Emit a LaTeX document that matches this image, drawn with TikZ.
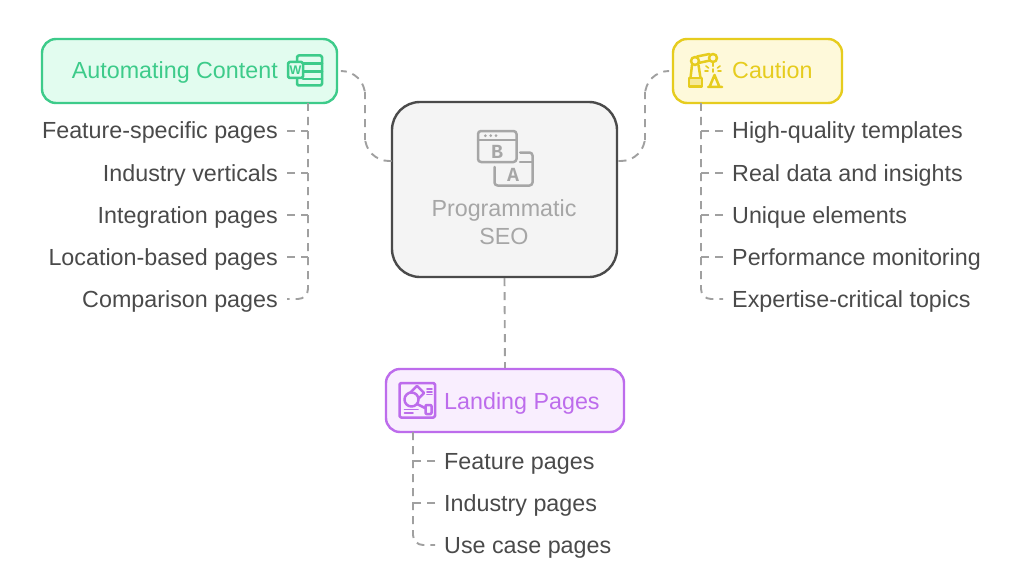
\documentclass[tikz,border=0pt]{standalone}
\usepackage{fontspec}
\setmainfont{Liberation Sans}
\newfontfamily\iconfont{Liberation Mono}
\definecolor{autoline}{HTML}{3DCB8A}
\definecolor{autofill}{HTML}{E2FCEF}
\definecolor{cautline}{HTML}{E6CC1E}
\definecolor{cautfill}{HTML}{FEF9DA}
\definecolor{landline}{HTML}{BD6CEC}
\definecolor{landfill}{HTML}{F9EEFE}
\definecolor{seoline}{HTML}{4A4A4A}
\definecolor{seofill}{HTML}{F4F4F4}
\definecolor{seotext}{HTML}{A6A6A6}
\definecolor{leaftext}{HTML}{4A4A4A}
\definecolor{linkgray}{HTML}{A0A0A0}
\tikzset{
  txt/.style={font=\fontsize{23.3}{26}\selectfont,text height=16pt,text depth=0pt,inner ysep=0pt,inner xsep=9pt},
  leafl/.style={txt,anchor=east,text=leaftext},
  leafr/.style={txt,anchor=west,text=leaftext},
  box/.style={draw,rounded corners=14pt,line width=2.4pt,minimum height=64pt,inner sep=0pt},
  link/.style={draw=linkgray,line width=1.9pt,dash pattern=on 8pt off 6pt},
  icon/.style={line width=2.5pt,line join=round,line cap=round},
}
\begin{document}
\begin{tikzpicture}[x=1pt,y=-1pt]
\path[use as bounding box,fill=white] (0,0) rectangle (1024,583);

\node[box,draw=seoline,fill=seofill,rounded corners=28pt,minimum width=225pt,minimum height=175pt] (seo) at (504.5,189.5) {};
\node[box,draw=autoline,fill=autofill,minimum width=295pt] (auto) at (189.5,71) {};
\node[box,draw=cautline,fill=cautfill,minimum width=169pt] (caut) at (757.5,71) {};
\node[box,draw=landline,fill=landfill,minimum width=238pt,minimum height=63pt] (land) at (505,400.5) {};

\node[txt,text=seotext] (seoa) at (504,208) {Programmatic};
\node[txt,text=seotext] (seob) at (504,236) {SEO};
\node[leafl,text=autoline] (autolabel) at (287,71) {Automating Content};
\node[leafr,text=cautline] (cautlabel) at (723,71) {Caution};
\node[leafr,text=landline] (landlabel) at (435,401) {Landing Pages};

\node[leafl] (feature) at (287,131) {Feature-specific pages};
\node[leafl] (industry) at (287,173) {Industry verticals};
\node[leafl] (integration) at (287,215) {Integration pages};
\node[leafl] (location) at (287,257) {Location-based pages};
\node[leafl] (comparison) at (287,299) {Comparison pages};

\node[leafr] (quality) at (723,131) {High-quality templates};
\node[leafr] (realdata) at (723,173) {Real data and insights};
\node[leafr] (unique) at (723,215) {Unique elements};
\node[leafr] (monitor) at (723,257) {Performance monitoring};
\node[leafr] (expert) at (723,299) {Expertise-critical topics};

\node[leafr] (featpages) at (435,461) {Feature pages};
\node[leafr] (indpages) at (435,503) {Industry pages};
\node[leafr] (usepages) at (435,545) {Use case pages};

\coordinate (seol) at (392,161);
\coordinate (seor) at (617,161);
\coordinate (autobend) at (365,116);
\coordinate (cautbend) at (645,116);
\coordinate (autotrunk) at (308,103);
\coordinate (cauttrunk) at (701,103);
\coordinate (landtrunk) at (413,432);

\draw[link,rounded corners=24pt,shorten <=5pt] (auto.east) -| (autobend) |- (seol);
\draw[link,rounded corners=24pt,shorten <=5pt] (caut.west) -| (cautbend) |- (seor);
\draw[link] (seo.south) -- (land.north);

\draw[link,rounded corners=10pt] (autotrunk) |- (comparison.east);
\draw[link] (feature.east) -- (feature.east -| autotrunk);
\draw[link] (industry.east) -- (industry.east -| autotrunk);
\draw[link] (integration.east) -- (integration.east -| autotrunk);
\draw[link] (location.east) -- (location.east -| autotrunk);

\draw[link,rounded corners=10pt] (cauttrunk) |- (expert.west);
\draw[link] (quality.west) -- (quality.west -| cauttrunk);
\draw[link] (realdata.west) -- (realdata.west -| cauttrunk);
\draw[link] (unique.west) -- (unique.west -| cauttrunk);
\draw[link] (monitor.west) -- (monitor.west -| cauttrunk);

\draw[link,rounded corners=10pt] (landtrunk) |- (usepages.west);
\draw[link] (featpages.west) -- (featpages.west -| landtrunk);
\draw[link] (indpages.west) -- (indpages.west -| landtrunk);

\draw[icon,draw=seotext,rounded corners=3pt] (478,131) rectangle (516.5,162);
\draw[icon,draw=seotext] (478,140) -- (516.5,140);
\fill[seotext] (485.3,135.7) circle (1.5) (490.7,135.7) circle (1.5) (496,135.7) circle (1.5);
\draw[icon,draw=seotext,rounded corners=3pt] (520,152.5) -- (532.5,152.5) -- (532.5,185.5) -- (494.5,185.5) -- (494.5,167);
\draw[icon,draw=seotext] (520,162) -- (532.5,162);
\node[text=seotext,font=\iconfont\bfseries\fontsize{20}{20}\selectfont,inner sep=0pt] (iconb) at (497,151.5) {B};
\node[text=seotext,font=\iconfont\bfseries\fontsize{20}{20}\selectfont,inner sep=0pt] (icona) at (513,174.5) {A};

\draw[icon,draw=autoline,fill=autofill,rounded corners=1.5pt] (297,55.5) rectangle (322,85.5);
\draw[icon,draw=autoline] (303,63.5) -- (322,63.5) (303,71.5) -- (322,71.5) (303,79) -- (322,79);
\draw[icon,draw=autoline,fill=autofill,rounded corners=1.5pt] (288,62) rectangle (303,78);
\node[text=autoline,font=\bfseries\fontsize{12.5}{12.5}\selectfont,inner sep=0pt] (iconw) at (295.5,70) {W};

\draw[icon,draw=cautline,fill=cautline!35!cautfill] (689,86.5) -- (702,86.5) -- (702,78) -- (689,78) -- cycle;
\draw[icon,draw=cautline] (690.5,78) -- (692,65) (700.5,78) -- (698.5,65);
\draw[icon,draw=cautline] (695,61) circle (4);
\draw[icon,draw=cautline] (713,58) circle (4);
\draw[icon,draw=cautline] (697,56.5) -- (709.5,54) (698.5,63) -- (710,60.5);
\draw[icon,draw=cautline] (713,62) -- (713,66);
\draw[icon,draw=cautline] (708,87) -- (722,87) (709.5,87) -- (714.5,75) -- (719.5,87);
\draw[icon,draw=cautline,line width=1.6pt] (706,66) -- (708.5,68) (705,71) -- (708,71) (720,66) -- (717.5,68) (721,71) -- (718,71) (713,69) -- (713,72);

\draw[icon,draw=landline,rounded corners=1.5pt] (399.5,383) rectangle (435,417.5);
\draw[icon,draw=landline,rotate around={45:(417,393)}] (412,388) rectangle (422,398);
\draw[icon,draw=landline,fill=landfill] (411.5,399.5) circle (7);
\draw[icon,draw=landline] (417,404) -- (425,408);
\draw[icon,draw=landline,fill=landfill,rounded corners=1pt] (425.5,405) rectangle (431.5,414);
\draw[icon,draw=landline,line width=1.6pt] (427,389) -- (432,389) (427,391.7) -- (432,391.7) (427,394.4) -- (432,394.4);
\draw[icon,draw=landline,line width=1.8pt] (404.5,409.5) -- (418,409.5) (404.5,412.8) -- (413,412.8);
\end{tikzpicture}
\end{document}
